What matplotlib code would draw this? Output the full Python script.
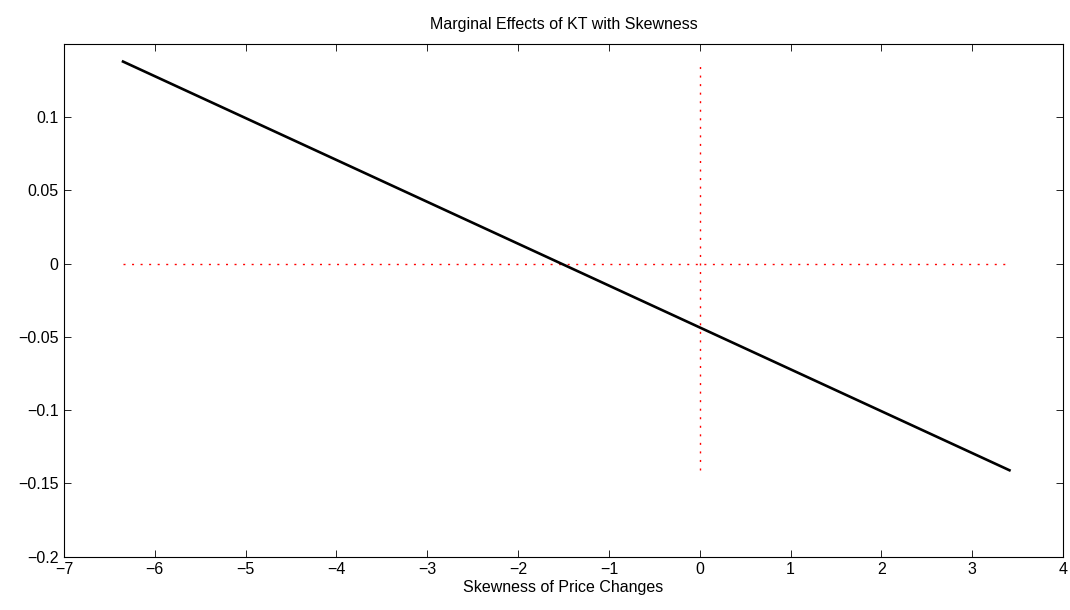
import matplotlib
matplotlib.use("Agg")
import matplotlib.pyplot as plt

plt.rcParams['font.family'] = ['Liberation Sans', 'DejaVu Sans']

# marginal effect line
skew = [-6.35, 3.41]
effect = [0.138, -0.141]

# reference lines through zero
zero_x = [-6.35, 3.41]
zero_y = [0, 0]
vert_x = [0, 0]
vert_y = [-0.141, 0.138]

xticks = list(range(-7, 5))
yticks = [-0.2, -0.15, -0.1, -0.05, 0, 0.05, 0.1]
ytick_labels = ["\u22120.2", "\u22120.15", "\u22120.1", "\u22120.05", "0", "0.05", "0.1"]

fig = plt.figure(figsize=(10.7, 6.1), dpi=100)
ax = fig.add_axes([0.0598, 0.0874, 0.9337, 0.8405])

dots = (0, (1.45, 4.7))
ax.plot(zero_x, zero_y, color="red", linestyle=dots, linewidth=1.0)
ax.plot(vert_x, vert_y, color="red", linestyle=dots, linewidth=1.0)
ax.plot(skew, effect, color="black", linewidth=1.9)

ax.set_xlim(-7, 4)
ax.set_ylim(-0.2, 0.15)
ax.set_xticks(xticks)
ax.set_yticks(yticks)
ax.set_yticklabels(ytick_labels)
ax.tick_params(direction="in", top=True, right=True, labelsize=11.5, length=5, width=0.6, pad=4)
for s in ax.spines.values():
    s.set_linewidth(0.8)

ax.set_title("Marginal Effects of KT with Skewness", fontsize=11.5, pad=11)
ax.set_xlabel("Skewness of Price Changes", fontsize=11.5, labelpad=2)

fig.savefig("out.png", dpi=100)
